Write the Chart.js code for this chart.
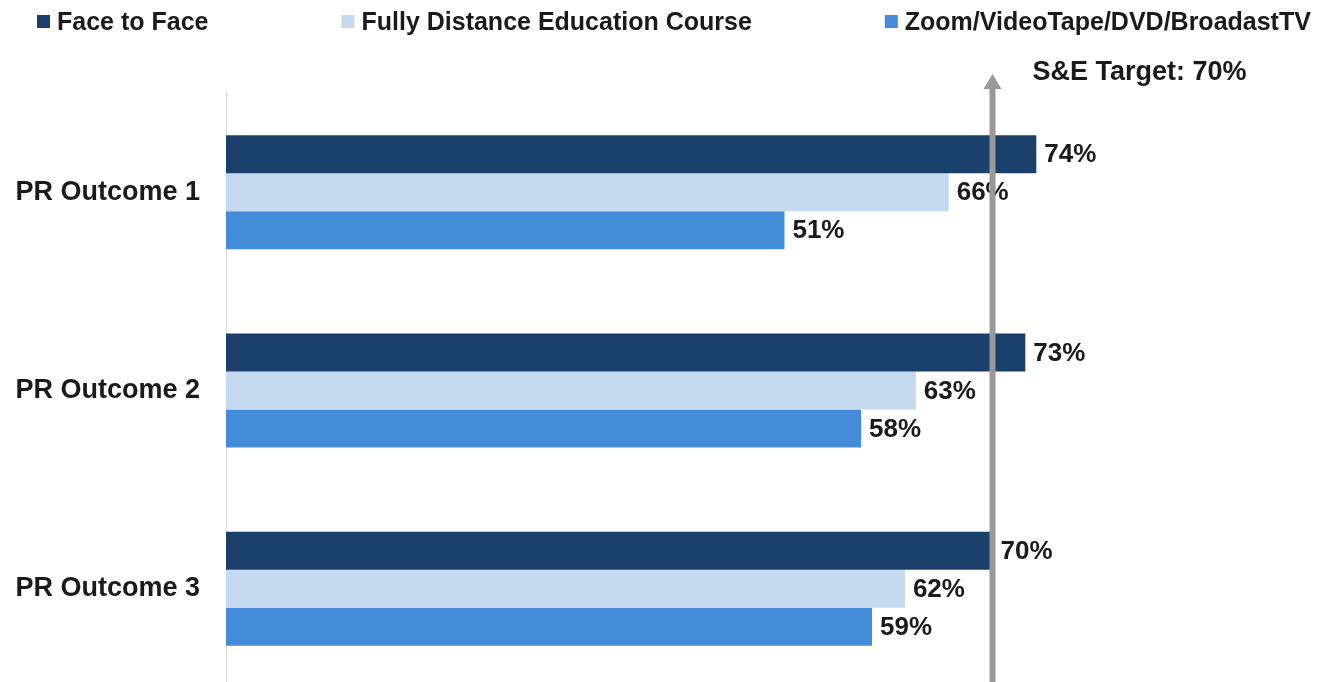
<!DOCTYPE html>
<html lang="en">
<head>
<meta charset="utf-8">
<title>PR Outcomes by Delivery Mode</title>
<script src="https://cdn.jsdelivr.net/npm/chart.js@4.4.1/dist/chart.umd.min.js"></script>
<style>
    html, body { margin: 0; padding: 0; background: #ffffff; overflow: hidden; }
    canvas { display: block; }
</style>
</head>
<body>
<canvas id="outcomeChart" width="1321" height="730"></canvas>
<script>
// Chart data
const categories = ['PR Outcome 1', 'PR Outcome 2', 'PR Outcome 3'];
const seriesNames = ['Face to Face', 'Fully Distance Education Course', 'Zoom/VideoTape/DVD/BroadastTV'];
const faceToFace = [74, 73, 70];
const fullyDistance = [66, 63, 62];
const zoomVideo = [51, 58, 59];
const targetValue = 70;
const targetLabel = 'S&E Target: 70%';

const seriesColors = ['#1b3f6b', '#c5d9f1', '#448bd9'];
const fontFamily = '"Liberation Sans", Arial, Helvetica, sans-serif';
const textColor = '#1a1a1a';

// Legend drawn across the top
const topLegend = {
    id: 'topLegend',
    afterDraw(chart) {
        const ctx = chart.ctx;
        ctx.save();
        ctx.font = 'bold 25px ' + fontFamily;
        ctx.textBaseline = 'middle';
        ctx.textAlign = 'left';
        const box = 13;
        const gap = 133;
        const y = 22;
        let x = 37;
        seriesNames.forEach(function(name, i) {
            ctx.fillStyle = seriesColors[i];
            ctx.fillRect(x, y - 7, box, box);
            ctx.fillStyle = textColor;
            ctx.fillText(name, x + box + 7, y + 1);
            x += box + 7 + ctx.measureText(name).width + gap;
        });
        ctx.restore();
    }
};

// Value labels at the bar ends, then the target arrow over them
const barLabels = {
    id: 'barLabels',
    afterDatasetsDraw(chart) {
        const ctx = chart.ctx;
        ctx.save();
        ctx.font = 'bold 26px ' + fontFamily;
        ctx.fillStyle = textColor;
        ctx.textBaseline = 'middle';
        ctx.textAlign = 'left';
        chart.data.datasets.forEach(function(ds, i) {
            chart.getDatasetMeta(i).data.forEach(function(bar, j) {
                ctx.fillText(ds.data[j] + '%', bar.x + 8, bar.y + 1);
            });
        });

        // Target arrow
        const xPos = chart.scales.x.getPixelForValue(targetValue);
        const top = chart.chartArea.top;
        ctx.strokeStyle = '#999999';
        ctx.fillStyle = '#999999';
        ctx.lineWidth = 6;
        ctx.beginPath();
        ctx.moveTo(xPos, top - 8);
        ctx.lineTo(xPos, chart.height);
        ctx.stroke();
        ctx.beginPath();
        ctx.moveTo(xPos, top - 19);
        ctx.lineTo(xPos - 9, top - 4);
        ctx.lineTo(xPos + 9, top - 4);
        ctx.closePath();
        ctx.fill();

        ctx.fillStyle = textColor;
        ctx.font = 'bold 27px ' + fontFamily;
        ctx.fillText(targetLabel, xPos + 40, top - 20);
        ctx.restore();
    }
};

function buildDatasets() {
    const values = [faceToFace, fullyDistance, zoomVideo];
    return seriesNames.map(function(name, i) {
        return {
            label: name,
            data: values[i],
            backgroundColor: seriesColors[i],
            borderWidth: 0,
            categoryPercentage: 0.575,
            barPercentage: 1.0
        };
    });
}

new Chart(document.getElementById('outcomeChart'), {
    type: 'bar',
    data: {
        labels: categories,
        datasets: buildDatasets()
    },
    options: {
        indexAxis: 'y',
        responsive: false,
        animation: false,
        layout: { padding: { top: 93, right: 0, bottom: 0, left: 0 } },
        plugins: {
            legend: { display: false },
            tooltip: { enabled: false }
        },
        scales: {
            x: {
                display: false,
                min: 0,
                max: 100
            },
            y: {
                grid: { display: false, drawTicks: false },
                border: { display: true, color: '#d9d9d9', width: 1 },
                ticks: {
                    color: textColor,
                    padding: 26,
                    font: { family: fontFamily, size: 27, weight: 'bold' }
                },
                afterFit(scale) { scale.width = 226; }
            }
        }
    },
    plugins: [topLegend, barLabels]
});
</script>
</body>
</html>
